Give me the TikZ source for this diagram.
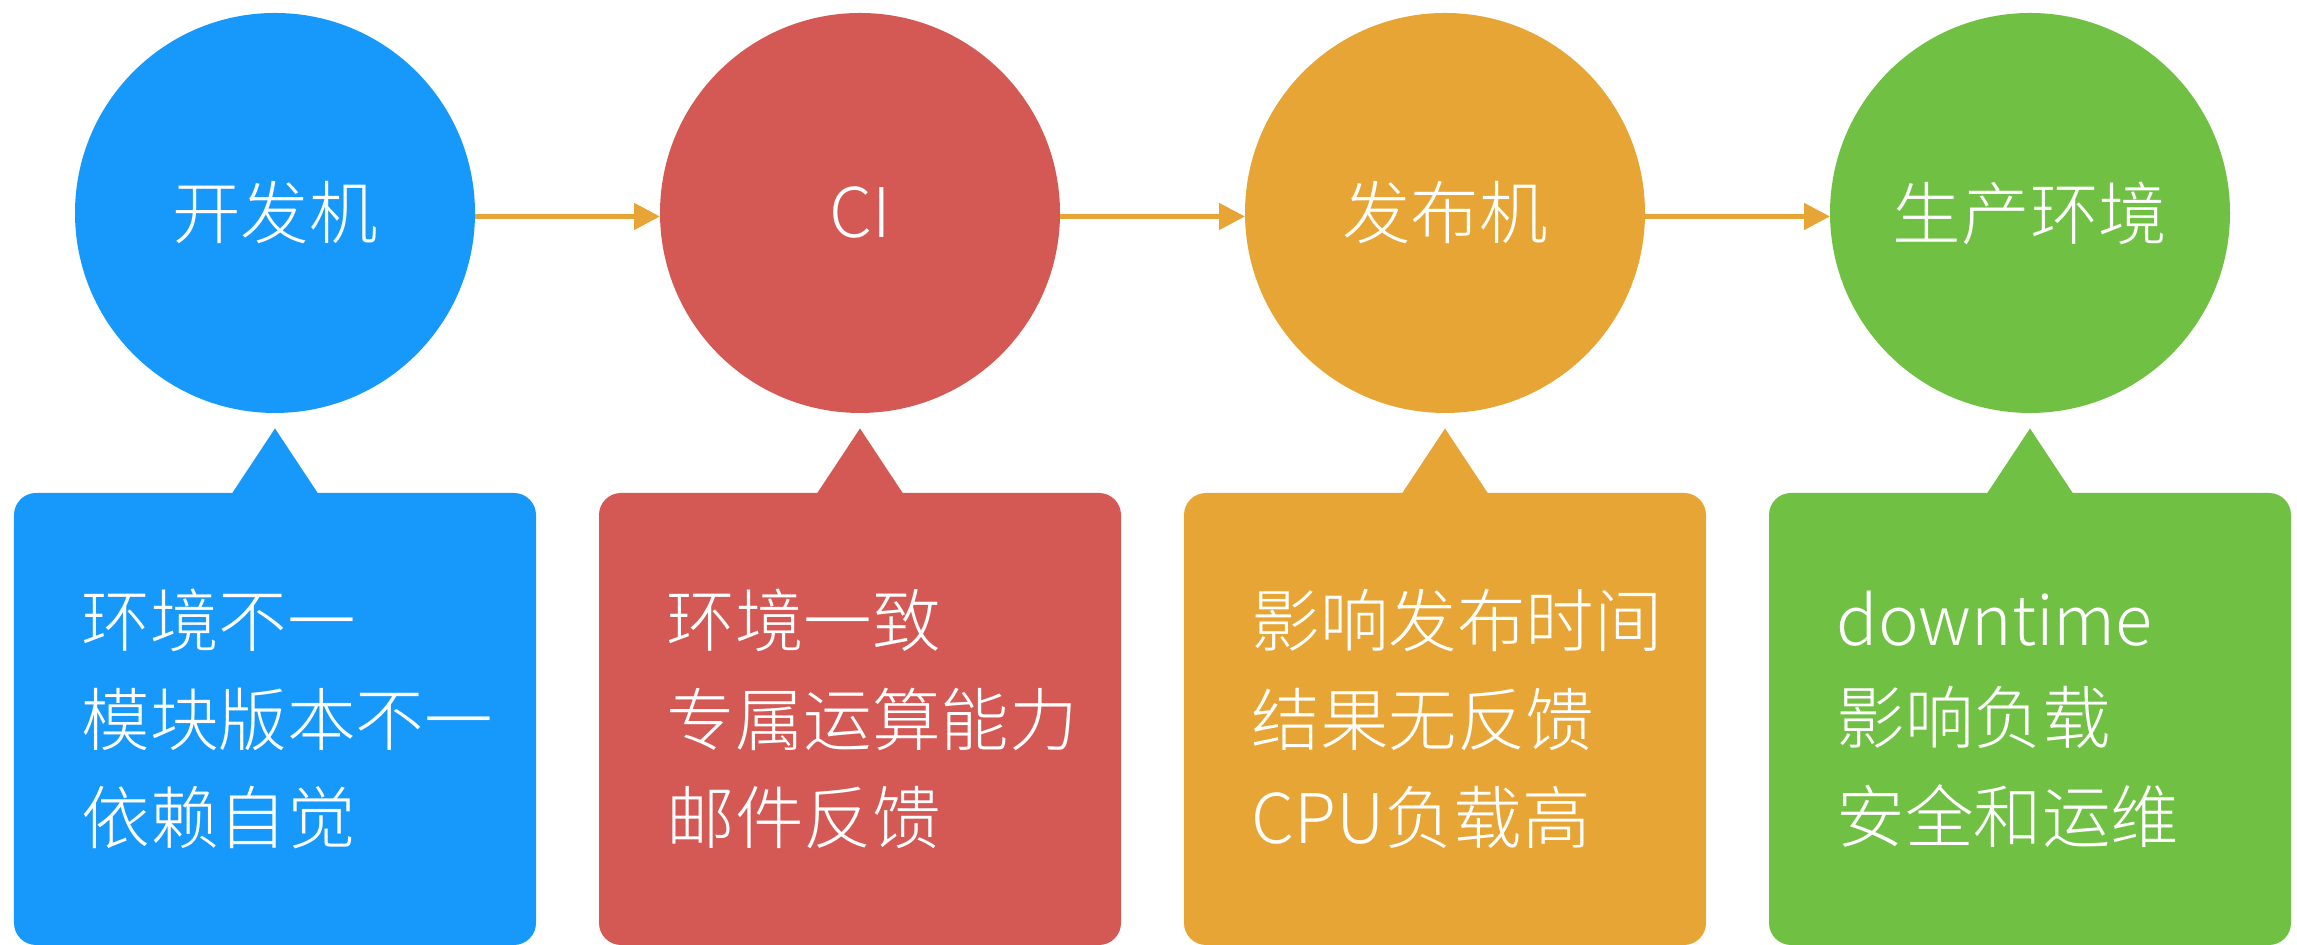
\documentclass[tikz,border=0pt]{standalone}
\usepackage{fontspec}
\setmainfont{Noto Sans CJK SC}[UprightFont=* Light]
\usetikzlibrary{arrows.meta,positioning}
\definecolor{devblue}{HTML}{1799FB}
\definecolor{cired}{HTML}{D45955}
\definecolor{pubyellow}{HTML}{E7A535}
\definecolor{prodgreen}{HTML}{70C044}
\begin{document}
\begin{tikzpicture}[
		stage/.style={circle, minimum size=4cm, inner sep=0pt, outer sep=0pt, text=white, font=\fontsize{19.5pt}{28pt}\selectfont},
		notebox/.style={rectangle, rounded corners=2.2mm, minimum width=5.22cm, minimum height=4.52cm, inner sep=0pt, outer sep=0pt},
		notetext/.style={anchor=west, align=left, text=white, inner sep=0pt, font=\fontsize{19.5pt}{28pt}\selectfont},
		flow/.style={pubyellow, line width=1.4pt, -{Triangle[length=2.6mm,width=2.6mm]}}
	]
	\useasboundingbox (0,0) rectangle (22.97,9.45);
	
	% stages
	\node [stage, fill=devblue] (dev) at (2.75,7.32) {开发机};
	\node [stage, fill=cired, right=1.85cm of dev] (ci) {CI};
	\node [stage, fill=pubyellow, right=1.85cm of ci] (pub) {发布机};
	\node [stage, fill=prodgreen, right=1.85cm of pub] (prod) {生产环境};
	
	\draw [flow] ([yshift=-0.35mm]dev.east) -- ([yshift=-0.35mm]ci.west);
	\draw [flow] ([yshift=-0.35mm]ci.east) -- ([yshift=-0.35mm]pub.west);
	\draw [flow] ([yshift=-0.35mm]pub.east) -- ([yshift=-0.35mm]prod.west);
	
	% notes
	\node [notebox, fill=devblue, below=8mm of dev] (devnote) {};
	\node [notebox, fill=cired, below=8mm of ci] (cinote) {};
	\node [notebox, fill=pubyellow, below=8mm of pub] (pubnote) {};
	\node [notebox, fill=prodgreen, below=8mm of prod] (prodnote) {};
	
	\fill [devblue] ([xshift=-4.4mm,yshift=-0.2mm]devnote.north) -- ([yshift=6.45mm]devnote.north) -- ([xshift=4.4mm,yshift=-0.2mm]devnote.north) -- cycle;
	\fill [cired] ([xshift=-4.4mm,yshift=-0.2mm]cinote.north) -- ([yshift=6.45mm]cinote.north) -- ([xshift=4.4mm,yshift=-0.2mm]cinote.north) -- cycle;
	\fill [pubyellow] ([xshift=-4.4mm,yshift=-0.2mm]pubnote.north) -- ([yshift=6.45mm]pubnote.north) -- ([xshift=4.4mm,yshift=-0.2mm]pubnote.north) -- cycle;
	\fill [prodgreen] ([xshift=-4.4mm,yshift=-0.2mm]prodnote.north) -- ([yshift=6.45mm]prodnote.north) -- ([xshift=4.4mm,yshift=-0.2mm]prodnote.north) -- cycle;
	
	\node [notetext] (devtext) at ([xshift=6.7mm]devnote.west) {环境不一\\模块版本不一\\依赖自觉};
	\node [notetext] (citext) at ([xshift=6.7mm]cinote.west) {环境一致\\专属运算能力\\邮件反馈};
	\node [notetext] (pubtext) at ([xshift=6.7mm]pubnote.west) {影响发布时间\\结果无反馈\\CPU负载高};
	\node [notetext] (prodtext) at ([xshift=6.7mm]prodnote.west) {downtime\\影响负载\\安全和运维};
\end{tikzpicture}
\end{document}
